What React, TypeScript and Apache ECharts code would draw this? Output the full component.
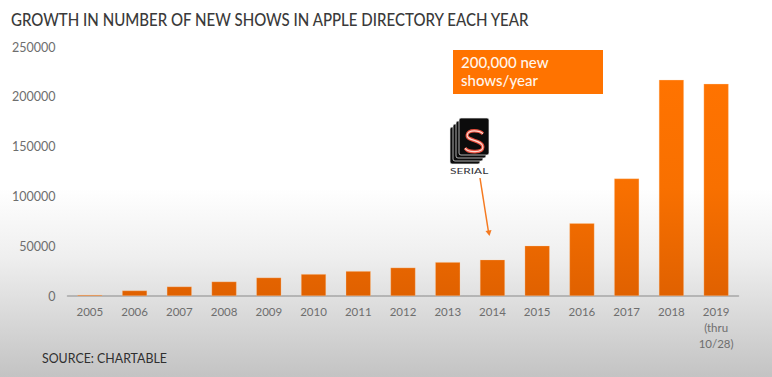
import React, { useEffect, useRef } from "react";
import * as echarts from "echarts";

const categories = ["2005","2006","2007","2008","2009","2010","2011","2012","2013","2014","2015","2016","2017","2018","2019\n(thru\n10/28)"];
const newShows = [1200,5500,9500,14500,18500,22000,25000,28500,34000,36500,50500,73000,118000,217000,213000];
const titleText = "GROWTH IN NUMBER OF NEW SHOWS IN APPLE DIRECTORY EACH YEAR";
const sourceText = "SOURCE: CHARTABLE";
const calloutLines = "200,000 new\nshows/year";
const logoLabel = "SERIAL";
const FONT = "Lato";

echarts.graphic.registerShape(
  "serialS",
  echarts.graphic.extendPath(
    "M18 4 C15 1 4 0 3 5 C2 10 18 9 18 15 C18 20 4 20 1 16",
    {}
  )
);

export default function App() {
  const ref = useRef<HTMLDivElement>(null);
  useEffect(() => {
    document.body.style.margin = "0";
    const chart = echarts.init(ref.current!, undefined, { renderer: "svg" });
    const card = (x: number, y: number, z: number) => ({
      type: "rect", z, shape: { x, y, width: 30, height: 37, r: 2 },
      style: { fill: "#0c0c0c", stroke: "#f2f2f2", lineWidth: 0.7 },
    });
    chart.setOption({
      animation: false,
      backgroundColor: {
        type: "linear", x: 0, y: 0, x2: 0, y2: 1,
        colorStops: [
          { offset: 0, color: "#ffffff" },
          { offset: 0.5, color: "#ffffff" },
          { offset: 0.68, color: "#efefef" },
          { offset: 1, color: "#c3c3c3" },
        ],
      },
      grid: { left: 67.5, right: 33.5, top: 47, bottom: 81, containLabel: false },
      xAxis: {
        type: "category",
        data: categories,
        axisLine: { lineStyle: { color: "#a6a6a6", width: 1.5 } },
        axisTick: { show: false },
        axisLabel: { color: "#6e6e6e", fontFamily: FONT, fontSize: 11.5, margin: 7, lineHeight: 16, interval: 0 },
      },
      yAxis: {
        type: "value", min: 0, max: 250000, interval: 50000,
        splitLine: { show: false },
        axisLine: { show: false },
        axisTick: { show: false },
        axisLabel: { color: "#6e6e6e", fontFamily: FONT, fontSize: 12.5, margin: 12, formatter: (v: number) => String(v) },
      },
      series: [{
        type: "bar",
        data: newShows,
        barWidth: 25,
        itemStyle: {
          borderColor: "rgba(255,210,170,0.6)",
          borderWidth: 0.5,
          color: {
            type: "linear", global: true, x: 0, y: 80, x2: 0, y2: 296,
            colorStops: [
              { offset: 0, color: "#ff7300" },
              { offset: 0.5, color: "#f87000" },
              { offset: 1, color: "#e06100" },
            ],
          },
        },
      }],
      graphic: [
        { type: "text", x: 11, y: 11, scaleX: 0.912, style: { text: titleText, font: `500 16.5px ${FONT}`, fill: "#3a3a3a" } },
        { type: "text", x: 42, y: 351, scaleX: 0.885, style: { text: sourceText, font: `14px ${FONT}`, fill: "#2f2f2f" } },
        { type: "rect", shape: { x: 453, y: 50, width: 150, height: 44 }, style: { fill: "#ff7300" } },
        { type: "text", x: 461, y: 53, style: { text: calloutLines, font: `500 15px ${FONT}`, fill: "#fff6ec", lineHeight: 18 } },
        card(450, 127, 10), card(453, 124, 11), card(456, 121, 12), card(459, 118, 13),
        { type: "serialS", x: 464, y: 129, z: 14, scaleX: 1.05, scaleY: 1.2,
          style: { fill: "none", stroke: "#e8503f", lineWidth: 3 } },
        { type: "serialS", x: 464, y: 129, z: 15, scaleX: 1.05, scaleY: 1.2,
          style: { fill: "none", stroke: "#ffd9cf", lineWidth: 1.1 } },
        { type: "text", x: 450, y: 168, z: 14, scaleX: 1.7, style: { text: logoLabel, font: `7px ${FONT}`, fill: "#33333a" } },
        { type: "line", shape: { x1: 480, y1: 178, x2: 488.5, y2: 232 }, style: { stroke: "#f57a20", lineWidth: 1.5 } },
        { type: "polygon", shape: { points: [[485.5, 231], [491.5, 230], [489.5, 236]] }, style: { fill: "#f57a20" } },
      ],
    });
    return () => chart.dispose();
  }, []);
  return <div ref={ref} style={{ width: 772, height: 377 }} />;
}
